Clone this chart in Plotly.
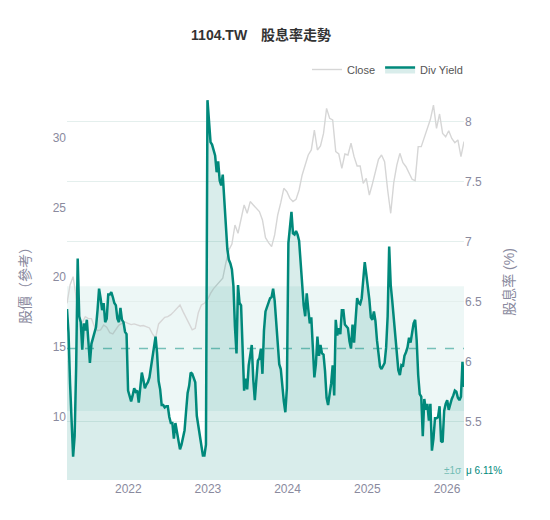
import pandas as pd
import plotly.graph_objects as go

# weekly dividend yield (%), 1104.TW
yield_start = '2021-03-26'
div_yield = [
    6.44, 6.24, 5.82, 5.46, 5.21, 5.38, 5.96, 6.86, 6.38, 6.33,
    6.10, 6.32, 6.26, 6.35, 6.18, 5.99, 6.15, 6.19, 6.24, 6.29,
    6.43, 6.61, 6.53, 6.43, 6.49, 6.33, 6.36, 6.56, 6.56, 6.58,
    6.54, 6.49, 6.47, 6.36, 6.33, 6.45, 6.35, 6.33, 6.25, 6.23,
    5.76, 5.71, 5.67, 5.72, 5.78, 5.75, 5.76, 5.66, 5.76, 5.91,
    5.85, 5.78, 5.81, 5.83, 5.87, 5.96, 6.06, 6.14, 6.21, 6.07,
    5.84, 5.77, 5.64, 5.64, 5.62, 5.63, 5.63, 5.54, 5.49, 5.49,
    5.36, 5.49, 5.41, 5.36, 5.27, 5.31, 5.36, 5.43, 5.59, 5.74,
    5.80, 5.91, 5.90, 5.87, 5.83, 5.55, 5.46, 5.40, 5.31, 5.22,
    5.22, 5.31, 8.18, 7.99, 7.83, 7.81, 7.77, 7.72, 7.58, 7.67,
    7.51, 7.47, 7.56, 7.35, 7.07, 6.94, 6.85, 6.82, 6.77, 6.63,
    6.29, 6.07, 6.64, 6.49, 6.47, 6.15, 5.76, 5.86, 5.77, 5.97,
    6.08, 6.14, 5.85, 5.68, 5.85, 6.01, 6.03, 6.11, 5.90, 6.26,
    6.42, 6.46, 6.50, 6.53, 6.54, 6.61, 6.51, 6.31, 6.12, 5.98,
    5.94, 5.77, 5.67, 5.58, 5.78, 6.99, 7.13, 7.25, 7.07, 7.06,
    7.09, 7.06, 7.01, 6.80, 6.62, 6.47, 6.38, 6.57, 6.44, 6.32,
    6.37, 6.13, 5.87, 5.98, 6.21, 6.05, 6.14, 6.07, 6.06, 5.92,
    5.70, 5.64, 5.72, 5.82, 5.97, 5.72, 6.35, 6.22, 6.28, 6.23,
    6.43, 6.43, 6.31, 6.29, 6.28, 6.17, 6.11, 6.31, 6.16, 6.35,
    6.53, 6.49, 6.48, 6.53, 6.72, 6.83, 6.73, 6.63, 6.52, 6.37,
    6.35, 6.42, 6.34, 6.18, 6.07, 5.96, 5.94, 5.97, 5.99, 6.12,
    6.38, 6.96, 6.64, 6.51, 6.36, 6.16, 6.06, 5.93, 5.89, 5.97,
    5.96, 6.05, 6.08, 6.12, 6.20, 6.16, 6.24, 6.32, 6.35, 6.18,
    5.89, 5.73, 5.71, 5.38, 5.69, 5.60, 5.65, 5.51, 5.65, 5.26,
    5.36, 5.53, 5.53, 5.54, 5.63, 5.34, 5.33, 5.59, 5.65, 5.68,
    5.60, 5.66, 5.69, 5.72, 5.76, 5.75, 5.70, 5.68, 5.71, 6.00,
    5.79,
]

# biweekly close price (reference)
close_start = '2021-03-26'
close = [
    18.13, 19.44, 20.04, 18.49, 17.10, 16.74, 17.17, 17.03, 17.03, 16.45,
    16.17, 16.22, 16.57, 16.41, 16.02, 15.93, 16.26, 16.57, 16.69, 16.79,
    16.69, 16.60, 16.65, 16.55, 16.50, 16.53, 16.45, 16.36, 15.93, 15.64,
    16.65, 16.91, 17.12, 17.17, 17.31, 17.53, 17.77, 18.01, 17.53, 17.08,
    16.62, 16.22, 16.34, 17.46, 18.01, 18.13, 18.37, 18.84, 19.18, 19.42,
    19.61, 19.92, 21.00, 21.95, 22.38, 23.74, 23.15, 24.22, 25.18, 24.58,
    25.42, 25.18, 24.94, 24.70, 24.10, 22.83, 22.48, 22.19, 23.03, 24.46,
    25.34, 26.37, 26.13, 25.65, 25.42, 25.58, 26.25, 27.33, 28.04, 28.76,
    29.12, 30.55, 29.12, 29.41, 30.31, 32.10, 31.39, 31.27, 29.00, 28.83,
    27.80, 28.83, 28.76, 29.60, 28.64, 27.97, 27.97, 26.73, 27.09, 25.89,
    26.68, 27.57, 28.45, 28.76, 28.28, 26.25, 24.58, 26.78, 28.04, 28.88,
    28.21, 27.92, 27.45, 27.02, 26.92, 29.36, 29.36, 30.07, 30.60, 31.32,
    32.34, 30.67, 31.70, 30.31, 30.07, 30.50, 29.95, 29.64, 29.84, 28.64,
    29.72,
]

mean_yield = 6.11
sigma_yield = 0.52

teal = '#00897b'
tick_color = '#8a8a9e'

yield_dates = pd.date_range(yield_start, periods=len(div_yield), freq='7D')
close_dates = pd.date_range(close_start, periods=len(close), freq='14D')

fig = go.Figure()
fig.add_trace(go.Scatter(x=close_dates, y=close, name='Close', mode='lines',
                         line=dict(color='#d6d6d6', width=1.4), yaxis='y'))
fig.add_trace(go.Scatter(x=yield_dates, y=div_yield, name='Div Yield', mode='lines',
                         line=dict(color=teal, width=2.5), fill='tozeroy',
                         fillcolor='rgba(0,137,123,0.15)', yaxis='y2'))

# +-1 sigma band and mean line
fig.add_shape(type='rect', xref='paper', x0=0, x1=1, yref='y2',
              y0=mean_yield - sigma_yield, y1=mean_yield + sigma_yield,
              fillcolor='rgba(0,137,123,0.07)', line_width=0, layer='below')
fig.add_shape(type='line', xref='paper', x0=0, x1=1, yref='y2',
              y0=mean_yield, y1=mean_yield,
              line=dict(color='rgba(0,137,123,0.5)', width=1.5, dash='dash'), layer='below')

fig.add_annotation(text='±1σ', xref='paper', yref='paper', x=1, y=0.005,
                   xanchor='right', yanchor='bottom', showarrow=False,
                   font=dict(size=10, color='rgba(0,137,123,0.5)'))
fig.add_annotation(text=f'μ {mean_yield:.2f}%', xref='paper', yref='paper', x=1, y=0.005,
                   xanchor='left', yanchor='bottom', showarrow=False,
                   font=dict(size=10, color=teal))

# page body has an 8px margin, so the figure is a bit smaller than the window
fig.update_layout(
    width=534, height=504,
    margin=dict(l=59, r=78, t=76, b=32),
    paper_bgcolor='white', plot_bgcolor='white',
    font=dict(family='Liberation Sans, Arial, Noto Sans CJK TC, sans-serif', color=tick_color),
    title=dict(text='<b>1104.TW\u3000股息率走勢</b>', xref='container', x=0.474, xanchor='center',
               y=0.946, yanchor='middle', font=dict(size=14, color='#333')),
    legend=dict(orientation='h', x=1.01, xanchor='right', y=1.0, yanchor='bottom',
                font=dict(size=11, color='#555'), bgcolor='rgba(0,0,0,0)'),
    showlegend=True,
    xaxis=dict(range=[yield_dates[0], yield_dates[-1]], showgrid=False, zeroline=False,
               automargin=False, dtick='M12', tickformat='%Y',
               tickfont=dict(size=12, color=tick_color)),
    yaxis=dict(title=dict(text='股價（參考）', standoff=18, font=dict(size=14, color=tick_color)),
               range=[5.46, 33.85], showgrid=False, zeroline=False, automargin=False,
               tickfont=dict(size=12, color=tick_color)),
    yaxis2=dict(title=dict(text='股息率 (%)', standoff=23, font=dict(size=14, color=tick_color)),
                overlaying='y', side='right', range=[5.015, 8.315], dtick=0.5,
                showgrid=True, gridcolor='#e4efed', zeroline=False, automargin=False,
                tickfont=dict(size=12, color=tick_color)),
)

fig.write_html("out.html")
